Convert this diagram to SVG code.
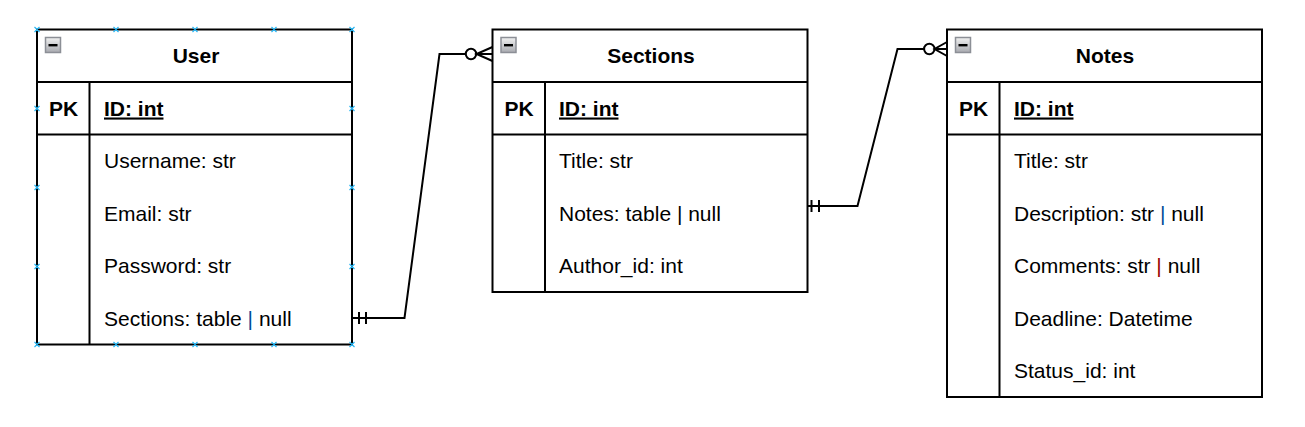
<svg xmlns="http://www.w3.org/2000/svg" width="1305" height="427" viewBox="0 0 1305 427">
<style>
.box{fill:#ffffff;stroke:#000000;stroke-width:2}
.ln{fill:none;stroke:#000000;stroke-width:2}
.t{font-family:"Liberation Sans",Arial,sans-serif;font-size:21px;fill:#000000}
.b{font-weight:bold}
.c{text-anchor:middle}
.u{text-decoration:underline}
.sel{stroke:#29b6f2;stroke-width:1.2;fill:none}
.pb{fill:#004c99}
.pr{fill:#990000}
</style>
<defs>
<linearGradient id="ig" x1="0" y1="0" x2="0" y2="1">
<stop offset="0" stop-color="#f2f2f2"/>
<stop offset="1" stop-color="#a8aab0"/>
</linearGradient>
<g id="icon">
<rect x="0.5" y="0.5" width="15" height="15" fill="url(#ig)" stroke="#8c8f96" stroke-width="1.5"/>
<rect x="3.5" y="7" width="9" height="2.4" fill="#000000"/>
</g>
</defs>

<g id="user">
<rect class="box" x="37" y="29.5" width="315" height="315"/>
<line class="ln" x1="37" y1="82" x2="352" y2="82"/>
<line class="ln" x1="37" y1="134.5" x2="352" y2="134.5"/>
<line class="ln" x1="89.5" y1="82" x2="89.5" y2="344.5"/>
<use href="#icon" x="45" y="37"/>
<text class="t b c" x="196" y="63">User</text>
<text class="t b c" x="63.5" y="115.5">PK</text>
<text class="t b u" x="104" y="115.5">ID: int</text>
<text class="t" x="104" y="168">Username: str</text>
<text class="t" x="104" y="220.5">Email: str</text>
<text class="t" x="104" y="273">Password: str</text>
<text class="t" x="104" y="325.5">Sections: table <tspan class="pb">|</tspan> null</text>
</g>

<g id="sections">
<rect class="box" x="492.5" y="29.5" width="315" height="262.5"/>
<line class="ln" x1="492.5" y1="82" x2="807.5" y2="82"/>
<line class="ln" x1="492.5" y1="134.5" x2="807.5" y2="134.5"/>
<line class="ln" x1="545" y1="82" x2="545" y2="292"/>
<use href="#icon" x="500.5" y="37"/>
<text class="t b c" x="651" y="63">Sections</text>
<text class="t b c" x="519" y="115.5">PK</text>
<text class="t b u" x="559" y="115.5">ID: int</text>
<text class="t" x="559" y="168">Title: str</text>
<text class="t" x="559" y="220.5">Notes: table | null</text>
<text class="t" x="559" y="273">Author_id: int</text>
</g>

<g id="notes">
<rect class="box" x="947" y="29.5" width="315" height="367.5"/>
<line class="ln" x1="947" y1="82" x2="1262" y2="82"/>
<line class="ln" x1="947" y1="134.5" x2="1262" y2="134.5"/>
<line class="ln" x1="999.5" y1="82" x2="999.5" y2="397"/>
<use href="#icon" x="955" y="37"/>
<text class="t b c" x="1105" y="63">Notes</text>
<text class="t b c" x="973.5" y="115.5">PK</text>
<text class="t b u" x="1014" y="115.5">ID: int</text>
<text class="t" x="1014" y="168">Title: str</text>
<text class="t" x="1014" y="220.5">Description: str <tspan class="pb">|</tspan> null</text>
<text class="t" x="1014" y="273">Comments: str <tspan class="pr">|</tspan> null</text>
<text class="t" x="1014" y="325.5">Deadline: Datetime</text>
<text class="t" x="1014" y="378">Status_id: int</text>
</g>

<g id="selection">
<path class="sel" d="M34.5 27l5 5M39.5 27l-5 5M113.5 27l5 5M118.5 27l-5 5M192.5 27l5 5M197.5 27l-5 5M271.5 27l5 5M276.5 27l-5 5M349.5 27l5 5M354.5 27l-5 5"/>
<path class="sel" d="M34.5 342l5 5M39.5 342l-5 5M113.5 342l5 5M118.5 342l-5 5M192.5 342l5 5M197.5 342l-5 5M271.5 342l5 5M276.5 342l-5 5M349.5 342l5 5M354.5 342l-5 5"/>
<path class="sel" d="M34.5 106l5 5M39.5 106l-5 5M34.5 185l5 5M39.5 185l-5 5M34.5 264l5 5M39.5 264l-5 5M349.5 106l5 5M354.5 106l-5 5M349.5 185l5 5M354.5 185l-5 5M349.5 264l5 5M354.5 264l-5 5"/>
</g>

<g id="connectors">
<path class="ln" d="M352 318H404.5L439.5 54H466"/>
<line class="ln" x1="359" y1="312" x2="359" y2="324"/>
<line class="ln" x1="366" y1="312" x2="366" y2="324"/>
<circle class="ln" cx="471" cy="54" r="5.2"/>
<path class="ln" d="M492.5 47L476.5 54L492.5 61M476.5 54H492.5"/>

<path class="ln" d="M807 206H857.5L897.5 49H924"/>
<line class="ln" x1="811.5" y1="200" x2="811.5" y2="212"/>
<line class="ln" x1="819" y1="200" x2="819" y2="212"/>
<circle class="ln" cx="929.3" cy="49" r="5.2"/>
<path class="ln" d="M947 42L934.5 49L947 56M934.5 49H947"/>
</g>
</svg>
